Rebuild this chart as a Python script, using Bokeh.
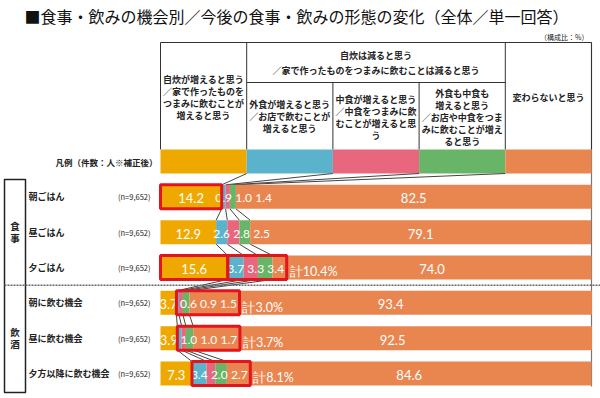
import numpy as np
from bokeh.plotting import figure
from bokeh.models import Range1d
from bokeh.core.properties import value
from bokeh.embed import file_html
from bokeh.resources import INLINE

# ---------------- data ----------------
title = "■食事・飲みの機会別／今後の食事・飲みの形態の変化（全体／単一回答）"
unit_note = "（構成比：%）"
legend_note = "凡例（件数：人※補正後）"
rows = ["朝ごはん", "昼ごはん", "夕ごはん", "朝に飲む機会", "昼に飲む機会", "夕方以降に飲む機会"]
n_labels = ["(n=9,652)"] * 6
groups = ["食事", "飲酒"]
group_rows = [[0, 1, 2], [3, 4, 5]]

self_up = [14.2, 12.9, 15.6, 3.7, 3.9, 7.3]        # 自炊が増えると思う
eat_out_up = [0.9, 2.6, 3.7, 0.6, 1.0, 3.4]        # 外食が増えると思う
nakashoku_up = [1.0, 2.8, 3.3, 0.9, 1.0, 2.0]      # 中食が増えると思う
both_up = [1.4, 2.5, 3.4, 1.5, 1.7, 2.7]           # 外食も中食も増えると思う
no_change = [82.5, 79.1, 74.0, 93.4, 92.5, 84.6]   # 変わらないと思う

highlight_self = [True, False, True, False, False, False]
highlight_group = [False, False, True, True, True, True]

header_top = ["自炊は減ると思う", "／家で作ったものをつまみに飲むことは減ると思う"]
header_cols = [
    ["自炊が増えると思う", "／家で作ったものを", "つまみに飲むことが", "増えると思う"],
    ["外食が増えると思う", "／お店で飲むことが", "増えると思う"],
    ["中食が増えると思う", "／中食をつまみに飲", "むことが増えると思", "う"],
    ["外食も中食も", "増えると思う", "／お店や中食をつま", "みに飲むことが増え", "ると思う"],
    ["変わらないと思う"],
]

series = [self_up, eat_out_up, nakashoku_up, both_up, no_change]
colors = ["#EFA800", "#5BB3CB", "#E8677D", "#68B567", "#E9864F"]
RED = "#E5131B"

# ---------------- geometry helpers ----------------
W, H = 600, 398
PX = 4.31      # pixels per percent
X0 = 160       # px of 0 %
ROW = 35.33    # pixels per row
Y0 = 161       # px of legend row


def X(px):
    return (px - X0) / PX


def Y(py):
    return (py - Y0) / ROW


JP = value("Noto Sans CJK JP")
NUM = value("Lato")
BH = 24 / ROW

p = figure(width=W, height=H, x_range=Range1d(X(0), X(W)),
           y_range=Range1d(Y(H), Y(0)), output_backend="svg",
           toolbar_location=None, x_axis_type=None, y_axis_type=None,
           min_border=0, outline_line_color=None)
p.background_fill_color = "white"
p.border_fill_color = "white"

ys = np.arange(1, len(rows) + 1)
data = np.array(series)
cum = np.cumsum(data, axis=0)
lefts = np.vstack([np.zeros(len(rows)), cum[:-1]])

# right edge line behind bars
p.segment(x0=[100], y0=[Y(42)], x1=[100], y1=[Y(386)], line_color="#777777", line_width=1.2)

# header table lines
tl = "#333333"
p.multi_line(
    xs=[[0, 100], [0, 0], [20, 20], [80, 80], [100, 100], [40, 40], [60, 60], [20, 80]],
    ys=[[Y(42), Y(42)], [Y(42), Y(149)], [Y(42), Y(149)], [Y(42), Y(149)], [Y(42), Y(149)],
        [Y(82), Y(149)], [Y(82), Y(149)], [Y(82), Y(82)]],
    line_color=tl, line_width=1)

# header texts
hx, hy, ht = [], [], []
col_centers = [10, 30, 50, 70, 90]
col_mid = [96.5, 116, 117, 116.5, 97]
for cx, mid, lines in zip(col_centers, col_mid, header_cols):
    n = len(lines)
    for j, t in enumerate(lines):
        hx.append(cx)
        hy.append(Y(mid + (j - (n - 1) / 2) * 12))
        ht.append(t)
for j, t in enumerate(header_top):
    hx.append(50)
    hy.append(Y(55 + j * 15))
    ht.append(t)
p.text(x=hx, y=hy, text=ht, text_font=JP, text_font_size="9px", text_font_style="bold",
       text_align="center", text_baseline="middle", text_color="#222222")

# legend boxes
p.hbar(y=[0] * 5, left=[0, 20, 40, 60, 80], right=[20, 40, 60, 80, 100], height=BH,
       fill_color=colors, line_color=None)

# connector lines
bx0, by0, bx1, by1 = [], [], [], []
for k in range(4):
    bx0.append(20 * (k + 1)); by0.append(BH / 2)
    bx1.append(cum[k][0]); by1.append(1 - BH / 2)
    for i in range(len(rows) - 1):
        bx0.append(cum[k][i]); by0.append(ys[i] + BH / 2)
        bx1.append(cum[k][i + 1]); by1.append(ys[i + 1] - BH / 2)
p.segment(x0=bx0, y0=by0, x1=bx1, y1=by1, line_color="#444444", line_width=1)

# bars: yellow first, its labels, then the rest
lab_dy = 1.5 / ROW
p.hbar(y=ys, left=lefts[0], right=cum[0], height=BH, fill_color=colors[0], line_color=None)
p.text(x=(lefts[0] + cum[0]) / 2, y=ys + lab_dy, text=[f"{v:.1f}" for v in self_up],
       text_font=NUM, text_font_size="13px", text_color="white",
       text_align="center", text_baseline="middle")
for k in range(1, 5):
    p.hbar(y=ys, left=lefts[k], right=cum[k], height=BH, fill_color=colors[k], line_color=None)

# small-segment labels (spread so they do not overlap)
gap = 20 / PX
lx, ly, lt = [], [], []
ox, oy, ot = [], [], []
box_l, box_r, box_y = [], [], []
sum_x, sum_y, sum_t = [], [], []
for i in range(len(rows)):
    prev = (lefts[0][i] + cum[0][i]) / 2
    last = None
    for k in range(1, 4):
        c = (lefts[k][i] + cum[k][i]) / 2
        xk = max(c, prev + gap)
        lx.append(xk); ly.append(ys[i] + lab_dy); lt.append(f"{data[k][i]:.1f}")
        prev = xk
        last = xk
    ox.append((lefts[4][i] + cum[4][i]) / 2); oy.append(ys[i] + lab_dy); ot.append(f"{no_change[i]:.1f}")
    if highlight_group[i]:
        r = last + 11 / PX
        box_l.append(cum[0][i]); box_r.append(r); box_y.append(ys[i])
        sum_x.append(r + 3 / PX); sum_y.append(ys[i] + 4.5 / ROW)
        sum_t.append(f"計{eat_out_up[i] + nakashoku_up[i] + both_up[i]:.1f}%")
    if highlight_self[i]:
        box_l.append(0); box_r.append(cum[0][i]); box_y.append(ys[i])
p.text(x=lx, y=ly, text=lt, text_font=NUM, text_font_size="12px", text_color="white",
       text_align="center", text_baseline="middle")
p.text(x=ox, y=oy, text=ot, text_font=NUM, text_font_size="13px", text_color="white",
       text_align="center", text_baseline="middle")
p.text(x=sum_x, y=sum_y, text=sum_t, text_font=NUM, text_font_size="12.5px", text_color="white",
       text_align="left", text_baseline="middle")
box_y = np.array(box_y)
p.quad(left=box_l, right=box_r, top=box_y - BH / 2, bottom=box_y + BH / 2,
       fill_alpha=0, line_color=RED, line_width=3)

# row labels
p.text(x=[X(28)] * len(rows), y=ys, text=rows, text_font=JP, text_font_size="9px",
       text_font_style="bold", text_align="left", text_baseline="middle", text_color="#222222")
p.text(x=[X(150)] * len(rows), y=ys, text=n_labels, text_font=JP, text_font_size="7.5px",
       text_align="right", text_baseline="middle", text_color="#222222")
p.text(x=[X(157)], y=[0], text=[legend_note], text_font=JP, text_font_size="8.5px",
       text_font_style="bold", text_align="right", text_baseline="middle", text_color="#222222")

# group box and separator
p.quad(left=[X(4)], right=[X(25)], top=[Y(179)], bottom=[Y(392)], fill_alpha=0,
       line_color="#222222", line_width=1.5)
p.segment(x0=[X(4)], y0=[3.5], x1=[X(600)], y1=[3.5], line_color="#666666",
          line_width=1.5, line_dash="2 1")
gx, gy, gt = [], [], []
for g, rr in zip(groups, group_rows):
    cy = np.mean([ys[r] for r in rr])
    for j, ch in enumerate(g):
        gx.append(X(14.5)); gy.append(cy + (j - 0.5) * 12 / ROW); gt.append(ch)
p.text(x=gx, y=gy, text=gt, text_font=JP, text_font_size="9.5px", text_font_style="bold",
       text_align="center", text_baseline="middle", text_color="#222222")

# titles
p.text(x=[X(24)], y=[Y(15)], text=[title], text_font=JP, text_font_size="16px",
       text_align="left", text_baseline="middle", text_color="#111111")
p.text(x=[X(588)], y=[Y(36)], text=[unit_note], text_font=JP, text_font_size="7px",
       text_align="right", text_baseline="middle", text_color="#222222")

open("out.html", "w").write(file_html(p, INLINE))
